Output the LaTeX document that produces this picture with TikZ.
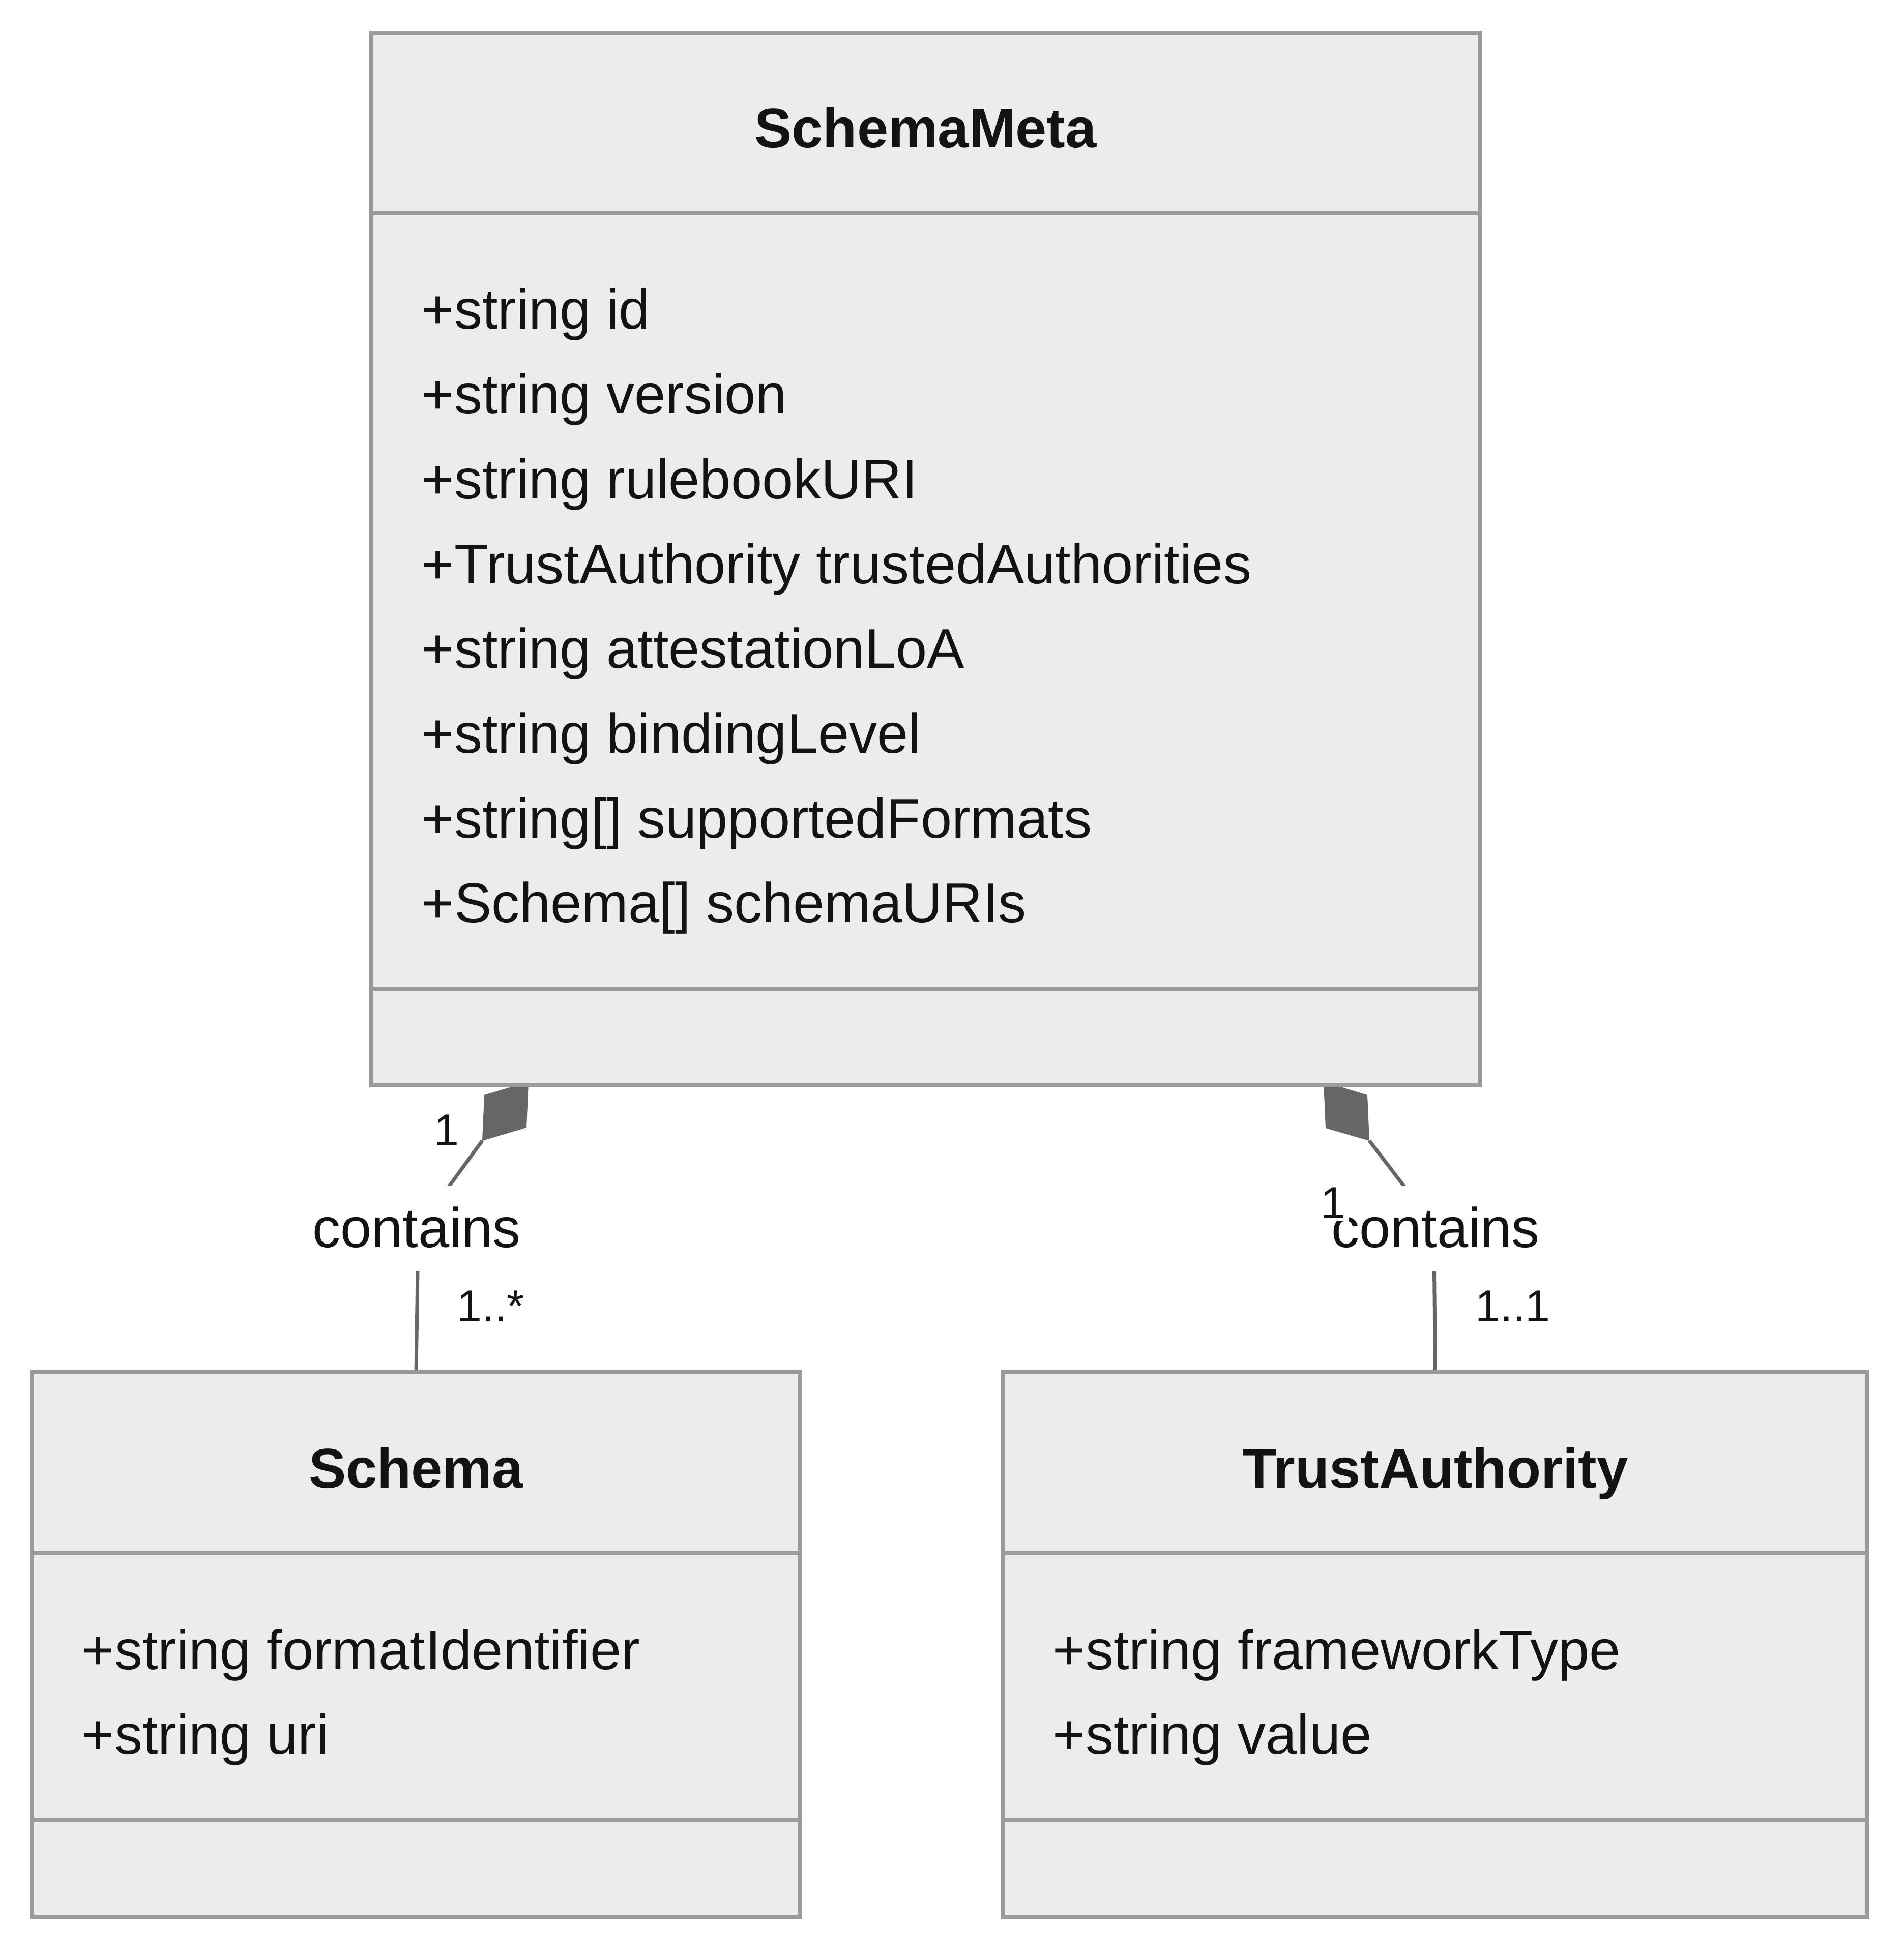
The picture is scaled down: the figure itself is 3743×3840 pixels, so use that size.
\documentclass[tikz,border=0pt]{standalone}
\usepackage{fontspec}
\setmainfont{Liberation Sans}
\definecolor{boxfill}{HTML}{ECECEC}
\definecolor{boxline}{HTML}{9A9A9A}
\definecolor{connc}{HTML}{666666}
\definecolor{txt}{HTML}{131313}
\begin{document}
\begin{tikzpicture}[x=0.25pt,y=-0.25pt,
  classbox/.style={draw=boxline, fill=boxfill, line width=2pt, inner sep=0pt, outer sep=0pt},
  divider/.style={draw=boxline, line width=2pt},
  conn/.style={draw=connc, line width=1.75pt},
  compmark/.style={fill=connc},
  titletext/.style={font=\fontsize{27.5pt}{33pt}\selectfont\bfseries, text=txt, anchor=base, inner sep=0pt},
  attrtext/.style={font=\fontsize{27.5pt}{33pt}\selectfont, text=txt, anchor=base west, inner sep=0pt},
  elabel/.style={font=\fontsize{27.5pt}{33pt}\selectfont, text=txt, fill=white, inner xsep=4pt, inner ysep=0pt, text height=30pt, text depth=11.75pt},
  multtext/.style={font=\fontsize{22pt}{26pt}\selectfont, text=txt, anchor=base west, inner sep=0pt}]
\useasboundingbox (0,0) rectangle (3743,3840);

% connector end points
\coordinate (dL) at (948,2243);
\coordinate (dR) at (2692,2243);
\coordinate (schemaTop) at (818,2698);
\coordinate (trustTop) at (2821.5,2698);

% connectors (drawn first, boxes cover their ends)
\draw[conn] (dL) -- (883,2332) .. controls (850,2378) and (821,2440) .. (821,2499) -- (schemaTop);
\draw[conn] (dR) -- (2760,2332) .. controls (2793,2378) and (2819.5,2440) .. (2819.5,2499) -- (trustTop);

% composition diamonds
\fill[compmark] (dL) -- (952,2153) -- (1039,2127) -- (1035,2217) -- cycle;
\fill[compmark] (dR) -- (2688,2153) -- (2602,2127) -- (2606,2218) -- cycle;

% class boxes
\node[classbox, minimum width=544.75pt, minimum height=517.5pt] (meta) at (1819.5,1099) {};
\node[classbox, minimum width=377.5pt, minimum height=267.75pt] (schema) at (818,3233.5) {};
\node[classbox, minimum width=424.75pt, minimum height=267.75pt] (trust) at (2821.5,3233.5) {};

% compartments
\draw[divider] (730,419) -- (2909,419);
\draw[divider] (730,1944) -- (2909,1944);
\draw[divider] (63,3054) -- (1573,3054);
\draw[divider] (63,3578) -- (1573,3578);
\draw[divider] (1972,3054) -- (3671,3054);
\draw[divider] (1972,3578) -- (3671,3578);

% titles
\node[titletext] (metaT) at (1819.5,291) {SchemaMeta};
\node[titletext] (schemaT) at (818,2925) {Schema};
\node[titletext] (trustT) at (2821.5,2925) {TrustAuthority};

% SchemaMeta attributes
\node[attrtext] (ma1) at (828,647) {+string id};
\node[attrtext] (ma2) at (828,813.7) {+string version};
\node[attrtext] (ma3) at (828,980.3) {+string rulebookURI};
\node[attrtext] (ma4) at (828,1147) {+TrustAuthority trustedAuthorities};
\node[attrtext] (ma5) at (828,1313.7) {+string attestationLoA};
\node[attrtext] (ma6) at (828,1480.3) {+string bindingLevel};
\node[attrtext] (ma7) at (828,1647) {+string[] supportedFormats};
\node[attrtext] (ma8) at (828,1813.7) {+Schema[] schemaURIs};

% Schema attributes
\node[attrtext] (sa1) at (160,3282) {+string formatIdentifier};
\node[attrtext] (sa2) at (160,3448.7) {+string uri};

% TrustAuthority attributes
\node[attrtext] (ta1) at (2069,3282) {+string frameworkType};
\node[attrtext] (ta2) at (2069,3448.7) {+string value};

% edge labels
\node[elabel] (lblL) at (819,2415.5) {contains};
\node[elabel] (lblR) at (2822,2415.5) {contains};

% multiplicities
\node[multtext] (mL1) at (853,2252) {1};
\node[multtext] (mL2) at (898,2598) {1..*};
\node[multtext, fill=white, inner sep=1.5pt] (mR1) at (2590,2395) {1};
\node[multtext] (mR2) at (2900,2598) {1..1};
\end{tikzpicture}
\end{document}
